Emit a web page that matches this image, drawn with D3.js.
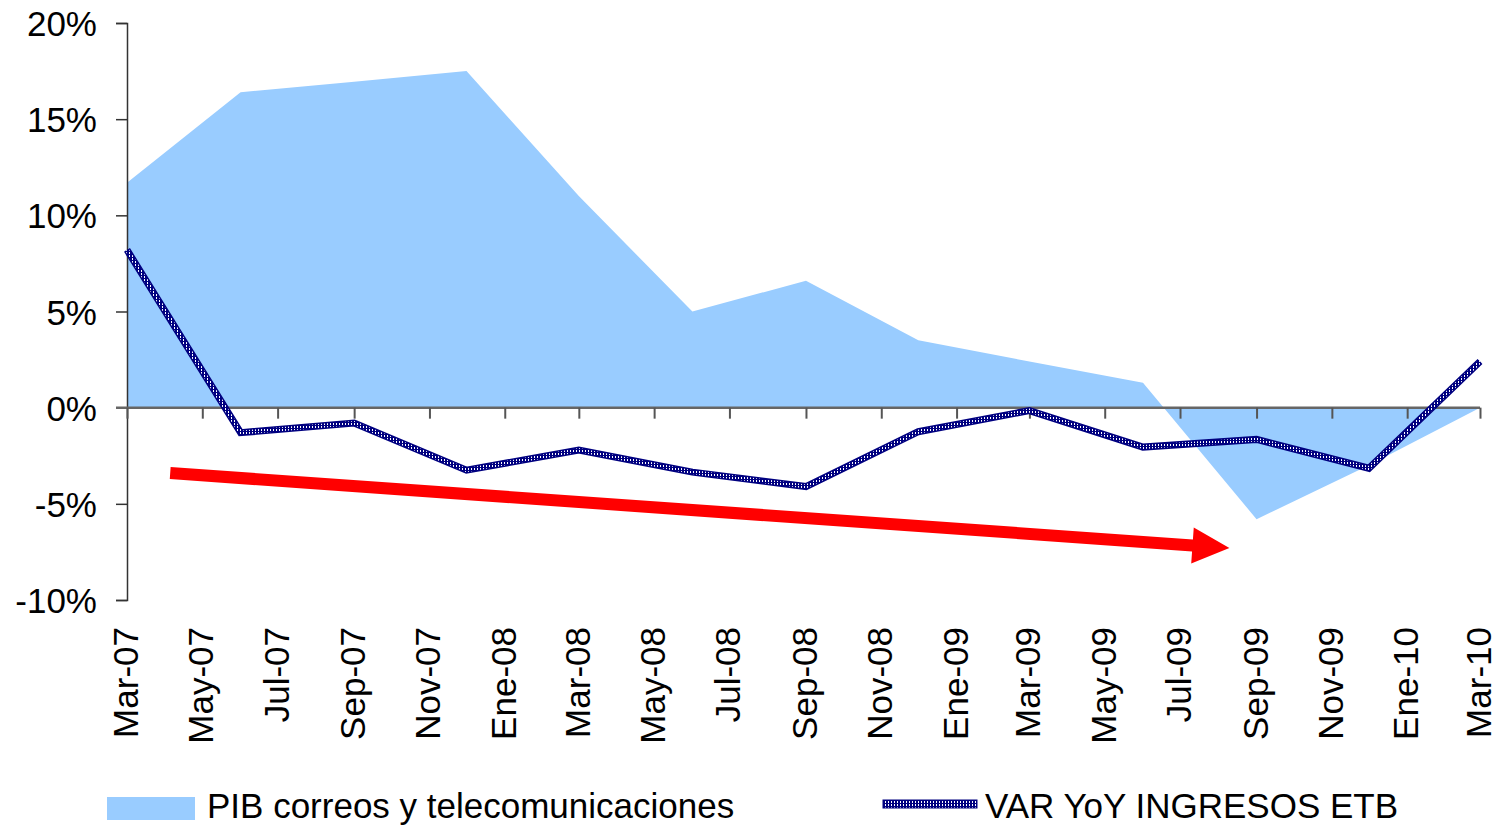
<!DOCTYPE html>
<html>
<head>
<meta charset="utf-8">
<script src="https://cdn.jsdelivr.net/npm/d3@7"></script>
<style>
  body { margin: 0; background: #fff; }
  text { font-family: "Liberation Sans", Arial, sans-serif; fill: #000; }
</style>
</head>
<body>
<div id="chart"></div>
<script>
// quarterly observations
var quarters = ["2007-03", "2007-06", "2007-09", "2007-12", "2008-03", "2008-06", "2008-09",
    "2008-12", "2009-03", "2009-06", "2009-09", "2009-12", "2010-03"];
var pibValues = [11.7, 16.4, 16.95, 17.5, 11.0, 5.0, 6.6, 3.5, 2.4, 1.3, -5.8, -3.0, 0.0];
var etbValues = [8.2, -1.3, -0.8, -3.25, -2.2, -3.35, -4.1, -1.25, -0.15, -2.05, -1.65, -3.15, 2.4];

// axis labels (every 2 months)
var tickLabels = ["Mar-07", "May-07", "Jul-07", "Sep-07", "Nov-07", "Ene-08", "Mar-08", "May-08",
    "Jul-08", "Sep-08", "Nov-08", "Ene-09", "Mar-09", "May-09", "Jul-09", "Sep-09", "Nov-09",
    "Ene-10", "Mar-10"];
var yTicks = [20, 15, 10, 5, 0, -5, -10];

// trend arrow annotation (date, value)
var arrowFrom = ["2007-04-05", -3.4];
var arrowTo = ["2009-08-10", -7.3];

var legendNames = ["PIB correos y telecomunicaciones", "VAR YoY INGRESOS ETB"];

function init() {
    var w = 1497, h = 825;
    var parse = d3.timeParse("%Y-%m");
    var parseDay = d3.timeParse("%Y-%m-%d");

    var svg = d3.select("#chart").append("svg")
        .attr("width", w)
        .attr("height", h);

    var x = d3.scaleTime()
        .domain([parse("2007-03"), parse("2010-03")])
        .range([127, 1480]);

    var y = d3.scaleLinear()
        .domain([-10, 20])
        .range([600, 23]);

    var tickDates = d3.timeMonth.every(2).range(parse("2007-03"), d3.timeMonth.offset(parse("2010-03"), 1));

    var data = quarters.map(function (q, i) {
        return { date: parse(q), pib: pibValues[i], etb: etbValues[i] };
    });

    // pattern for hatched line
    var defs = svg.append("defs");
    var pat = defs.append("pattern")
        .attr("id", "hatch")
        .attr("patternUnits", "userSpaceOnUse")
        .attr("width", 3)
        .attr("height", 3);
    pat.append("rect").attr("width", 3).attr("height", 3).attr("fill", "#000080");
    pat.append("rect").attr("width", 1).attr("height", 2).attr("fill", "#ffffff");

    // area
    var area = d3.area()
        .x(function (d) { return x(d.date); })
        .y0(y(0))
        .y1(function (d) { return y(d.pib); });

    svg.append("path")
        .datum(data)
        .attr("d", area)
        .attr("fill", "#99ccff");

    // y axis
    var yAxis = svg.append("g")
        .attr("transform", "translate(127,0)")
        .call(d3.axisLeft(y).tickValues(yTicks).tickSize(11).tickPadding(19)
            .tickFormat(function (d) { return d + "%"; }));
    yAxis.select(".domain").attr("stroke", "#333").attr("stroke-width", 1.5);
    yAxis.selectAll(".tick line").attr("stroke", "#333").attr("stroke-width", 1.5);
    yAxis.selectAll("text")
        .style("font-size", "35px")
        .attr("dy", "0.36em")
        .attr("fill", "#000");

    // x axis at 0%
    var xAxis = svg.append("g")
        .attr("transform", "translate(0," + y(0) + ")")
        .call(d3.axisBottom(x).tickValues(tickDates).tickSize(11).tickSizeOuter(0)
            .tickFormat(function () { return ""; }));
    xAxis.select(".domain").attr("stroke", "#666").attr("stroke-width", 2.5)
        .attr("d", "M116,0H" + x.range()[1]);
    xAxis.selectAll(".tick line").attr("stroke", "#555").attr("stroke-width", 2);

    // rotated x labels below the plot
    svg.selectAll(".xlab")
        .data(tickDates)
        .enter()
        .append("text")
        .attr("class", "xlab")
        .attr("transform", function (d) { return "translate(" + (x(d) + 11) + ",627) rotate(-90)"; })
        .attr("text-anchor", "end")
        .style("font-size", "35px")
        .text(function (d, i) { return tickLabels[i]; });

    // hatched line
    var line = d3.line()
        .x(function (d) { return x(d.date); })
        .y(function (d) { return y(d.etb); });

    svg.append("path")
        .datum(data)
        .attr("d", line)
        .attr("fill", "none")
        .attr("stroke", "#000080")
        .attr("stroke-width", 7)
        .attr("stroke-linejoin", "miter");
    svg.append("path")
        .datum(data)
        .attr("d", line)
        .attr("fill", "none")
        .attr("stroke", "url(#hatch)")
        .attr("stroke-width", 4)
        .attr("stroke-linejoin", "miter");

    // red arrow
    var ax0 = x(parseDay(arrowFrom[0])), ay0 = y(arrowFrom[1]);
    var ax1 = x(parseDay(arrowTo[0])), ay1 = y(arrowTo[1]);
    var ang = Math.atan2(ay1 - ay0, ax1 - ax0);
    var headLen = 37, headHalf = 18, shaftHalf = 6;
    var bx = ax1 - headLen * Math.cos(ang), by = ay1 - headLen * Math.sin(ang);
    var nx = -Math.sin(ang), ny = Math.cos(ang);
    svg.append("path")
        .attr("d", "M" + (ax0 + nx * shaftHalf) + "," + (ay0 + ny * shaftHalf) +
            "L" + (bx + nx * shaftHalf) + "," + (by + ny * shaftHalf) +
            "L" + (bx + nx * headHalf) + "," + (by + ny * headHalf) +
            "L" + ax1 + "," + ay1 +
            "L" + (bx - nx * headHalf) + "," + (by - ny * headHalf) +
            "L" + (bx - nx * shaftHalf) + "," + (by - ny * shaftHalf) +
            "L" + (ax0 - nx * shaftHalf) + "," + (ay0 - ny * shaftHalf) + "Z")
        .attr("fill", "#ff0000");

    // legend
    var leg = svg.append("g");
    leg.append("rect")
        .attr("x", 107).attr("y", 797)
        .attr("width", 88).attr("height", 23)
        .attr("fill", "#99ccff");
    leg.append("text")
        .attr("x", 207).attr("y", 818)
        .style("font-size", "35px")
        .text(legendNames[0]);
    leg.append("rect")
        .attr("x", 883).attr("y", 800)
        .attr("width", 94).attr("height", 8)
        .attr("fill", "url(#hatch)")
        .attr("stroke", "#000080")
        .attr("stroke-width", 1);
    leg.append("text")
        .attr("x", 985).attr("y", 818)
        .style("font-size", "35px")
        .text(legendNames[1]);
}

window.onload = init;
</script>
</body>
</html>
